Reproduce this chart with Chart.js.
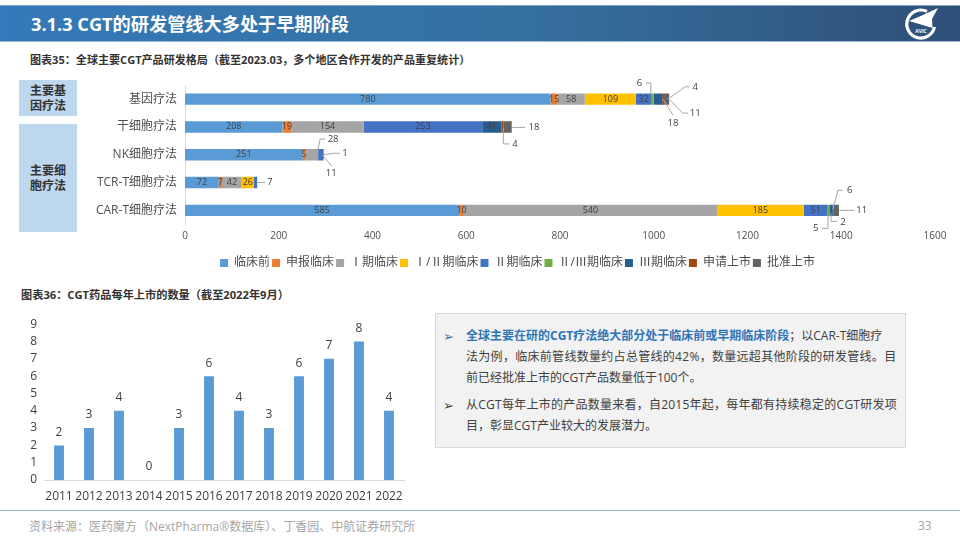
<!DOCTYPE html>
<html>
<head>
<meta charset="utf-8">
<script src="https://cdn.jsdelivr.net/npm/chart.js@4/dist/chart.umd.min.js"></script>
<style>
  html, body { margin: 0; padding: 0; background: #fff; }
  body { width: 960px; height: 540px; position: relative; overflow: hidden;
         font-family: "Open Sans", "Noto Sans CJK SC", sans-serif; color: #404040; }
  .abs { position: absolute; white-space: nowrap; }
  canvas { position: absolute; }
  #header { left: 0; top: 5px; width: 960px; height: 37px; box-sizing: border-box;
            background: linear-gradient(90deg, #3479ba 0%, #35709f 55%, #2f4f78 100%);
            border-top: 1px solid #7fa3c2; border-bottom: 1px solid #9db9d2; }
  #title { left: 31px; top: 9px; font-size: 18.2px; line-height: 30px; font-weight: 700; color: #fff; }
  .figtitle { font-weight: 700; color: #333; }
  .side { left: 19px; width: 58px; background: #bdd7ee; font-size: 12px; font-weight: 700; color: #333;
          display: flex; align-items: center; justify-content: center; text-align: center; line-height: 15px; }
  #note { left: 435px; top: 313px; width: 471px; height: 135px; box-sizing: border-box;
          background: #f2f2f2; border: 1.5px solid #d9d9d9; }
  .line { font-size: 12px; line-height: 20px; left: 466px; color: #404040; }
  .line b { color: #2e75b6; }
  .arrow { font-size: 13px; left: 443px; color: #2e75b6; line-height: 20px; }
  #rule { left: 0; top: 510px; width: 960px; height: 1px; background: #8fb4cc; }
  #source { left: 29px; top: 519px; font-size: 12px; line-height: 16px; color: #a6a6a6; }
  #page { left: 918px; top: 518px; font-size: 12px; line-height: 16px; color: #a6a6a6; }
</style>
</head>
<body>
<div class="abs" id="header"></div>
<div class="abs" id="title">3.1.3 CGT的研发管线大多处于早期阶段</div>
<svg class="abs" style="left:895px;top:0" width="55" height="48" viewBox="0 0 55 48">
  <path d="M32 11.5 A14 14 0 1 0 39.5 27" fill="none" stroke="#fff" stroke-width="3.2"/>
  <path d="M43 8 L37 19 L37.5 28 L26 24.5 L14 21 L28 15 Z" fill="#fff"/>
  <text x="26" y="32.5" font-size="5" font-weight="700" fill="#fff" text-anchor="middle" font-family="Open Sans">AVIC</text>
</svg>
<div class="abs figtitle" style="left:30px;top:52px;font-size:11.07px;line-height:16px">图表35：全球主要CGT产品研发格局（截至2023.03，多个地区合作开发的产品重复统计）</div>
<div class="abs side" style="top:80px;height:36px">主要基<br>因疗法</div>
<div class="abs side" style="top:124px;height:108px">主要细<br>胞疗法</div>
<canvas id="pipelineChart" width="875" height="209" style="left:80px;top:70px"></canvas>
<div class="abs figtitle" style="left:21px;top:287px;font-size:11.2px;line-height:16px">图表36：CGT药品每年上市的数量（截至2022年9月）</div>
<canvas id="launchChart" width="410" height="200" style="left:10px;top:310px"></canvas>
<div class="abs" id="note"></div>
<div class="abs arrow" style="top:326px">➢</div>
<div class="abs line" style="top:326px"><b>全球主要在研的CGT疗法绝大部分处于临床前或早期临床阶段</b>；以CAR-T细胞疗</div>
<div class="abs line" style="top:347px;letter-spacing:.3px">法为例，临床前管线数量约占总管线的42%，数量远超其他阶段的研发管线。目</div>
<div class="abs line" style="top:368px">前已经批准上市的CGT产品数量低于100个。</div>
<div class="abs arrow" style="top:395px;color:#404040">➢</div>
<div class="abs line" style="top:395px;letter-spacing:.25px">从CGT每年上市的产品数量来看，自2015年起，每年都有持续稳定的CGT研发项</div>
<div class="abs line" style="top:416px">目，彰显CGT产业较大的发展潜力。</div>
<div class="abs" id="rule"></div>
<div class="abs" id="source">资料来源：医药魔方（NextPharma®数据库）、丁香园、中航证券研究所</div>
<div class="abs" id="page">33</div>

<script>
const therapies = ['基因疗法', '干细胞疗法', 'NK细胞疗法', 'TCR-T细胞疗法', 'CAR-T细胞疗法'];
const stages = ['临床前', '申报临床', 'Ⅰ期临床', 'Ⅰ/Ⅱ期临床', 'Ⅱ期临床', 'Ⅱ/Ⅲ期临床', 'Ⅲ期临床', '申请上市', '批准上市'];
const stageColors = ['#5b9bd5', '#ed7d31', '#a5a5a5', '#ffc000', '#4472c4', '#70ad47', '#255e91', '#9e480e', '#636363'];

// one list per stage, same order as therapies
const preclinical = [780, 208, 251, 72, 585];
const filing = [15, 19, 5, 7, 10];
const phase1 = [58, 154, 28, 42, 540];
const phase1to2 = [109, null, null, 26, 185];
const phase2 = [32, 253, 11, 7, 51];
const phase2to3 = [6, null, null, null, 5];
const phase3 = [18, 41, 1, null, 6];
const submitted = [4, 4, null, null, 2];
const approved = [11, 18, null, null, 11];
const stageValues = [preclinical, filing, phase1, phase1to2, phase2, phase2to3, phase3, submitted, approved];

const years = ['2011', '2012', '2013', '2014', '2015', '2016', '2017', '2018', '2019', '2020', '2021', '2022'];
const launches = [2, 3, 4, 0, 3, 6, 4, 3, 6, 7, 8, 4];

const fontFamily = '"Open Sans", "Noto Sans CJK SC", sans-serif';
const textColor = '#505050';

// small segments get an outside label with a leader line:
// [therapy, stage, text dx, text dy, leader points relative to the segment centre]
const callouts = [
  [0, 5, -13, -16, [[-1.5, -5], [-1.5, -16], [-6.5, -16]]],
  [0, 6, 15, 24, [[5, 0], [15, 16]]],
  [0, 7, 32, -12, [[4.5, 0], [22, -12.3], [26, -12.3]]],
  [0, 8, 28.5, 14, [[3.5, 1], [16, 14], [21.5, 14]]],
  [1, 7, 12.5, 17, [[1, 1], [1, 17], [7, 17]]],
  [1, 8, 26.5, 0.5, [[4.5, 0.5], [17.5, 0.5]]],
  [2, 2, 21.5, -15.7, [[6.5, -5], [8.5, -15.7], [13.5, -15.7]]],
  [2, 4, 10.5, 18.5, [[2, 0.5], [11, 11.5]]],
  [2, 6, 21.5, -1.5, [[0, 0], [10, -1.5], [16.5, -1.5]]],
  [3, 4, 14.5, -0.5, [[2, 0], [9.5, 0]]],
  [4, 5, -13, 18, [[-0.8, 5], [-0.8, 18], [-7, 18]]],
  [4, 6, 18.3, -20, [[1.5, -1], [6.5, -20], [11.5, -20]]],
  [4, 7, 9.7, 11.7, [[-2.3, 3], [-2.3, 11], [3.7, 11]]],
  [4, 8, 25.4, 0, [[3, 0], [17.7, 0]]],
];

const stackLabels = {
  id: 'stackLabels',
  // the legend sits a little right of the canvas centre
  afterLayout(chart) {
    chart.legend.left += 10;
    chart.legend.right += 10;
  },
  afterDatasetsDraw(chart) {
    const ctx = chart.ctx;
    ctx.save();
    ctx.textAlign = 'center';
    ctx.textBaseline = 'middle';
    ctx.fillStyle = '#404040';
    ctx.font = '9px ' + fontFamily;
    chart.data.datasets.forEach((ds, s) => {
      chart.getDatasetMeta(s).data.forEach((bar, i) => {
        if (ds.data[i] === null) return;
        if (callouts.some(c => c[0] === i && c[1] === s)) return;
        ctx.fillText(ds.data[i], (bar.base + bar.x) / 2, bar.y);
      });
    });
    ctx.font = '9.5px ' + fontFamily;
    ctx.strokeStyle = '#a6a6a6';
    ctx.lineWidth = 1;
    callouts.forEach(([i, s, dx, dy, pts]) => {
      const bar = chart.getDatasetMeta(s).data[i];
      const cx = (bar.base + bar.x) / 2;
      ctx.beginPath();
      pts.forEach((p, n) => {
        if (n === 0) ctx.moveTo(cx + p[0], bar.y + p[1]);
        else ctx.lineTo(cx + p[0], bar.y + p[1]);
      });
      ctx.stroke();
      ctx.fillText(chart.data.datasets[s].data[i], cx + dx, bar.y + dy);
    });
    ctx.restore();
  }
};

const topLabels = {
  id: 'topLabels',
  afterDatasetsDraw(chart) {
    const ctx = chart.ctx;
    ctx.save();
    ctx.textAlign = 'center';
    ctx.textBaseline = 'middle';
    ctx.fillStyle = '#404040';
    ctx.font = '12px ' + fontFamily;
    chart.getDatasetMeta(0).data.forEach((bar, i) => {
      ctx.fillText(launches[i], bar.x, bar.y - 13);
    });
    ctx.restore();
  }
};

new Chart(document.getElementById('pipelineChart').getContext('2d'), {
  type: 'bar',
  plugins: [stackLabels],
  data: {
    labels: therapies,
    datasets: stages.map((name, s) => ({
      label: name,
      data: stageValues[s],
      backgroundColor: stageColors[s],
      borderWidth: 0,
      categoryPercentage: 1,
      barPercentage: 0.41,
    })),
  },
  options: {
    indexAxis: 'y',
    responsive: false,
    animation: false,
    devicePixelRatio: 1,
    layout: { padding: { top: 14.5, right: 20, left: 0, bottom: 0 } },
    plugins: {
      tooltip: { enabled: false },
      legend: {
        position: 'bottom',
        labels: {
          boxWidth: 8, boxHeight: 8, padding: 2, color: textColor,
          font: { size: 12, family: fontFamily },
        },
      },
    },
    scales: {
      x: {
        stacked: true, min: 0, max: 1600,
        grid: { display: false, drawTicks: false },
        border: { display: false },
        ticks: { stepSize: 200, padding: 6, color: textColor, maxRotation: 0, font: { size: 10, family: fontFamily },
                 callback: value => String(value) },
        afterFit(scale) { scale.height = 30.7; },
      },
      y: {
        stacked: true,
        grid: { display: false, drawTicks: false },
        border: { display: true, color: '#d9d9d9' },
        ticks: { padding: 8, color: textColor, font: { size: 12, family: fontFamily } },
        afterFit(scale) { scale.width = 105; },
      },
    },
  },
});

new Chart(document.getElementById('launchChart').getContext('2d'), {
  type: 'bar',
  plugins: [topLabels],
  data: {
    labels: years,
    datasets: [{
      label: 'launches',
      data: launches,
      backgroundColor: '#5b9bd5',
      borderWidth: 0,
      categoryPercentage: 1,
      barPercentage: 0.33,
    }],
  },
  options: {
    responsive: false,
    animation: false,
    devicePixelRatio: 1,
    layout: { padding: { top: 13, right: 16, left: 0, bottom: 0 } },
    plugins: { legend: { display: false }, tooltip: { enabled: false } },
    scales: {
      x: {
        grid: { display: false, drawTicks: false },
        border: { display: true, color: '#d9d9d9' },
        ticks: { padding: 9, color: '#404040', maxRotation: 0, autoSkip: false, font: { size: 12, family: fontFamily } },
        afterFit(scale) { scale.height = 30; },
      },
      y: {
        min: 0, max: 9,
        grid: { display: false, drawTicks: false },
        border: { display: false },
        ticks: { stepSize: 1, padding: 7, autoSkip: false, color: '#404040', font: { size: 12, family: fontFamily } },
        afterFit(scale) { scale.width = 34; },
      },
    },
  },
});
</script>
</body>
</html>
